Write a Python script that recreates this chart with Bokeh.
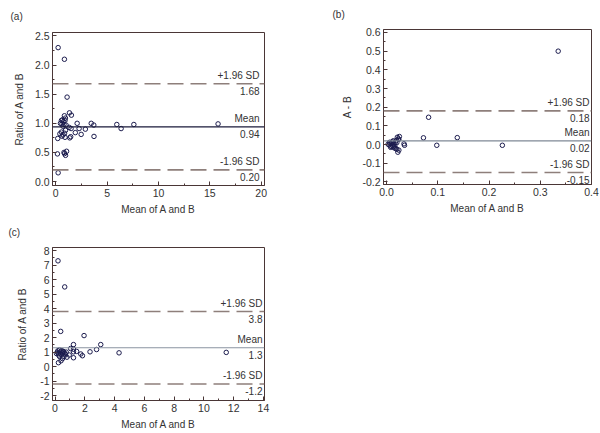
from bokeh.plotting import figure
from bokeh.models import Span, Label, FixedTicker, NumeralTickFormatter, Range1d
from bokeh.layouts import row, column
from bokeh.embed import file_html
from bokeh.resources import INLINE

# ---------------- data ----------------
# Panel (a): mean of A and B vs ratio of A and B
a_mean = [0.23, 0.84, 1.10, 1.33, 1.52, 0.84, 0.94, 0.90, 0.55, 0.65, 0.75, 0.45, 0.60, 0.80,
          1.00, 0.70, 2.08, 3.45, 3.70, 5.94, 6.36, 7.60, 15.8, 1.49, 1.30, 2.27, 2.88, 1.90,
          2.47, 3.72, 1.36, 1.45, 0.19, 0.40, 0.55, 0.70, 0.85, 0.95, 0.60, 0.90, 0.16, 0.80,
          0.95, 1.05, 0.85, 0.23]
a_ratio = [2.30, 2.10, 1.45, 1.18, 1.14, 1.13, 1.09, 1.05, 1.05, 1.06, 1.03, 1.00, 0.99, 0.98,
           0.97, 0.95, 1.00, 1.00, 0.97, 0.98, 0.91, 0.98, 0.99, 0.91, 0.93, 0.91, 0.90, 0.84,
           0.81, 0.775, 0.75, 0.77, 0.74, 0.82, 0.85, 0.80, 0.83, 0.88, 0.78, 0.76, 0.475, 0.50,
           0.45, 0.52, 0.48, 0.15]
a_stats = [0.94, 1.68, 0.20]          # mean, +1.96 SD, -1.96 SD
a_texts = ["0.94", "1.68", "0.20"]

# Panel (b): mean of A and B vs difference A - B
b_mean = [0.335, 0.082, 0.072, 0.138, 0.098, 0.226, 0.035, 0.025, 0.021, 0.023, 0.019, 0.024,
          0.017, 0.007, 0.005, 0.010, 0.012, 0.013, 0.015, 0.018, 0.020, 0.022, 0.009, 0.003,
          0.011, 0.014, 0.016, 0.008, 0.020, 0.006, 0.013, 0.024, 0.034]
b_diff = [0.50, 0.146, 0.036, 0.037, -0.004, -0.004, -0.004, 0.043, 0.039, 0.030, 0.022, 0.028,
          0.012, 0.005, -0.002, 0.008, -0.005, -0.012, -0.018, -0.022, -0.025, -0.041, -0.010,
          0.002, 0.015, 0.003, -0.008, -0.015, 0.010, 0.012, 0.020, -0.030, 0.004]
b_stats = [0.02, 0.18, -0.15]
b_texts = ["0.02", "0.18", "-0.15"]

# Panel (c): mean of A and B vs ratio of A and B
c_mean = [0.20, 0.65, 0.38, 1.95, 1.24, 3.07, 2.79, 2.35, 4.30, 11.5, 1.24, 1.24, 1.24, 1.73,
          1.84, 1.45, 0.23, 0.40, 0.50, 0.60, 0.70, 0.80, 0.15, 0.20, 0.25, 0.30, 0.35, 0.40,
          0.45, 0.50, 0.55, 0.25, 0.10, 0.60, 0.30, 0.65, 0.75, 0.95, 1.05]
c_ratio = [7.30, 5.50, 2.43, 2.14, 1.52, 1.52, 1.18, 1.02, 0.95, 0.98, 1.20, 1.02, 0.61, 0.87,
           0.75, 1.05, 0.27, 0.40, 0.55, 0.70, 0.85, 0.65, 1.00, 1.10, 0.90, 1.15, 1.00, 0.85,
           1.10, 0.95, 1.05, 0.80, 0.90, 1.00, 0.70, 0.90, 1.00, 0.80, 1.25]
c_stats = [1.3, 3.8, -1.2]
c_texts = ["1.3", "3.8", "-1.2"]

# axis settings
a_xticks = [0, 5, 10, 15, 20]
a_yticks = [0.0, 0.5, 1.0, 1.5, 2.0, 2.5]
b_xticks = [0.0, 0.1, 0.2, 0.3, 0.4]
b_yticks = [-0.2, -0.1, 0.0, 0.1, 0.2, 0.3, 0.4, 0.5, 0.6]
c_xticks = [0, 2, 4, 6, 8, 10, 12, 14]
c_yticks = [-2, -1, 0, 1, 2, 3, 4, 5, 6, 7, 8]

FONT = "Liberation Sans"
FRAME = "#4a3636"
DASH = "#8e7f7b"
TXT = "#333333"
MARK = "#1c1c4e"


def minor(ticks):
    return [(ticks[i] + ticks[i + 1]) / 2 for i in range(len(ticks) - 1)]


def panel(tag, tag_offset, tag_standoff, xs, ys, xr, yr, xt, yt, xfmt, yfmt, ylabel, stats,
          texts, mean_color, w, h, borders, xoff, ylab_standoff):
    p = figure(width=w, height=h, x_range=Range1d(*xr), y_range=Range1d(*yr),
               output_backend="svg", toolbar_location=None, tools="")
    p.min_border_left, p.min_border_right, p.min_border_top, p.min_border_bottom = borders
    p.xgrid.visible = False
    p.ygrid.visible = False
    p.outline_line_color = FRAME
    p.outline_line_width = 1

    # panel tag as a left-aligned title
    p.title.text = tag
    p.title.align = "left"
    p.title.vertical_align = "top"
    p.title.offset = tag_offset
    p.title.standoff = tag_standoff
    p.title.text_font = FONT
    p.title.text_font_size = "10px"
    p.title.text_font_style = "normal"
    p.title.text_color = TXT

    p.xaxis.ticker = FixedTicker(ticks=xt, minor_ticks=minor(xt))
    p.yaxis.ticker = FixedTicker(ticks=yt, minor_ticks=minor(yt))
    p.xaxis.formatter = NumeralTickFormatter(format=xfmt)
    p.yaxis.formatter = NumeralTickFormatter(format=yfmt)
    for ax in (p.xaxis, p.yaxis):
        ax.axis_line_color = FRAME
        ax.major_tick_line_color = FRAME
        ax.minor_tick_line_color = FRAME
        ax.major_tick_in = 4
        ax.major_tick_out = 0
        ax.minor_tick_in = 2
        ax.minor_tick_out = 0
        ax.major_label_text_font = FONT
        ax.major_label_text_font_size = "10.5px"
        ax.major_label_text_color = TXT
        ax.major_label_standoff = 3
        ax.axis_label_text_font = FONT
        ax.axis_label_text_font_size = "10px"
        ax.axis_label_text_font_style = "normal"
        ax.axis_label_text_color = TXT
    p.xaxis.axis_label = "Mean of A and B"
    p.xaxis.axis_label_standoff = 4
    p.xaxis.major_label_standoff = 3
    p.yaxis.axis_label = ylabel
    p.yaxis.axis_label_standoff = ylab_standoff

    mean, up, lo = stats
    p.add_layout(Span(location=mean, dimension="width", line_color=mean_color, line_width=1.2))
    for v in (up, lo):
        p.add_layout(Span(location=v, dimension="width", line_color=DASH,
                          line_width=1.6, line_dash="16 7"))

    p.scatter(xs, ys, marker="circle", size=4.5, fill_color=None,
              line_color=MARK, line_width=1)

    tops = ["Mean", "+1.96 SD", "-1.96 SD"]
    for v, t_above, t_below in zip(stats, tops, texts):
        p.add_layout(Label(x=xr[1], y=v, x_offset=xoff, y_offset=3, text=t_above,
                           text_align="right", text_baseline="bottom", text_font=FONT,
                           text_font_size="10px", text_color=TXT))
        p.add_layout(Label(x=xr[1], y=v, x_offset=xoff, y_offset=-3, text=t_below,
                           text_align="right", text_baseline="top", text_font=FONT,
                           text_font_size="10px", text_color=TXT))
    return p


pa = panel("(a)", -42, 18, a_mean, a_ratio, (-0.32, 20.32), (-0.068, 2.56),
           a_xticks, a_yticks, "0", "0.0", "Ratio of A and B", a_stats, a_texts, "#1a1a3a",
           308, 217, (52, 44, 32, 30), -5, 7)
pb = panel("(b)", -51, 15, b_mean, b_diff, (-0.006, 0.40), (-0.214, 0.616),
           b_xticks, b_yticks, "0.0", "0.0", "A - B", b_stats, b_texts, "#7f8996",
           291, 217, (75, 8, 29, 33), -2, 6)
pc = panel("(c)", -44, 15, c_mean, c_ratio, (-0.17, 14.07), (-2.34, 8.22),
           c_xticks, c_yticks, "0", "0", "Ratio of A and B", c_stats, c_texts, "#8a93a0",
           308, 215, (52, 44, 30, 30), -2, 9)

layout = column(row(column(pa), column(pb), spacing=0), column(pc), spacing=0)
open("out.html", "w").write(file_html(layout, INLINE))
